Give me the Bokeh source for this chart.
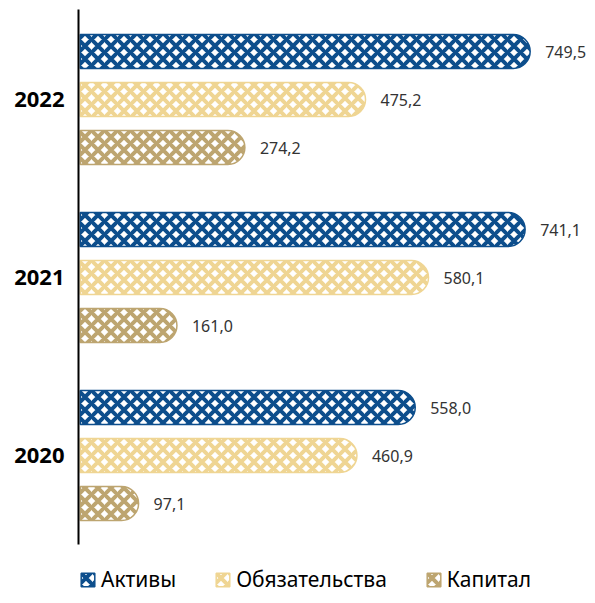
from bokeh.plotting import figure
from bokeh.models import ColumnDataSource, Range1d, FixedTicker, Legend, LegendItem, LabelSet
from bokeh.core.properties import value
from bokeh.embed import file_html
from bokeh.resources import INLINE

years = ["2022", "2021", "2020"]
series = ["Активы", "Обязательства", "Капитал"]
aktivy = [749.5, 741.1, 558.0]
obyaz = [475.2, 580.1, 460.9]
kapital = [274.2, 161.0, 97.1]
colors = ["#0d4e8c", "#efd593", "#bda570"]

values = [aktivy, obyaz, kapital]
group_step = 178
bar_step = 48
first_center = 90

p = figure(width=587, height=595, output_backend="svg", toolbar_location=None,
           x_range=Range1d(-3, 845), y_range=Range1d(586, 0),
           min_border_left=78, min_border_right=0, min_border_top=9, min_border_bottom=0)
p.background_fill_color = "white"
p.border_fill_color = "white"
p.outline_line_color = None
p.grid.visible = False
p.xaxis.visible = False

centers = [first_center + i * group_step for i in range(len(years))]
items = []
for k, (name, vals, col) in enumerate(zip(series, values, colors)):
    ys = [c + (k - 1) * bar_step for c in centers]
    src = ColumnDataSource(dict(y=ys, v=vals, lab=[f"{v:.1f}".replace(".", ",") for v in vals]))
    r = p.hbar(y="y", left=0, right="v", height=34, source=src,
               fill_color="white", line_color=col, line_width=1.5,
               hatch_pattern="diagonal_cross", hatch_color=col, hatch_weight=4, hatch_scale=13,
               border_radius=(0, 17, 17, 0))
    items.append(LegendItem(label=name, renderers=[r]))
    p.add_layout(LabelSet(x="v", y="y", text="lab", source=src, x_offset=15,
                          text_baseline="middle", text_font=value("Noto Sans"),
                          text_font_size="16px", text_color="#333333"))

p.yaxis.ticker = FixedTicker(ticks=centers)
p.yaxis.bounds = (0, 535)
p.yaxis.major_label_overrides = {c: y for c, y in zip(centers, years)}
p.yaxis.major_tick_line_color = None
p.yaxis.minor_tick_line_color = None
p.yaxis.axis_line_color = "black"
p.yaxis.axis_line_width = 2
p.yaxis.major_label_text_font = "Noto Sans"
p.yaxis.major_label_text_font_style = "bold"
p.yaxis.major_label_text_font_size = "22px"
p.yaxis.major_label_text_color = "black"
p.yaxis.major_label_standoff = 8

legend = Legend(items=items, orientation="horizontal", location=(1, 2),
                label_text_font="Noto Sans", label_text_font_size="21px",
                label_text_color="black", glyph_width=17, glyph_height=17,
                label_standoff=5, spacing=38, border_line_color=None,
                background_fill_alpha=0, padding=0, margin=0)
p.add_layout(legend, "center")

open("out.html", "w").write(file_html(p, INLINE))
